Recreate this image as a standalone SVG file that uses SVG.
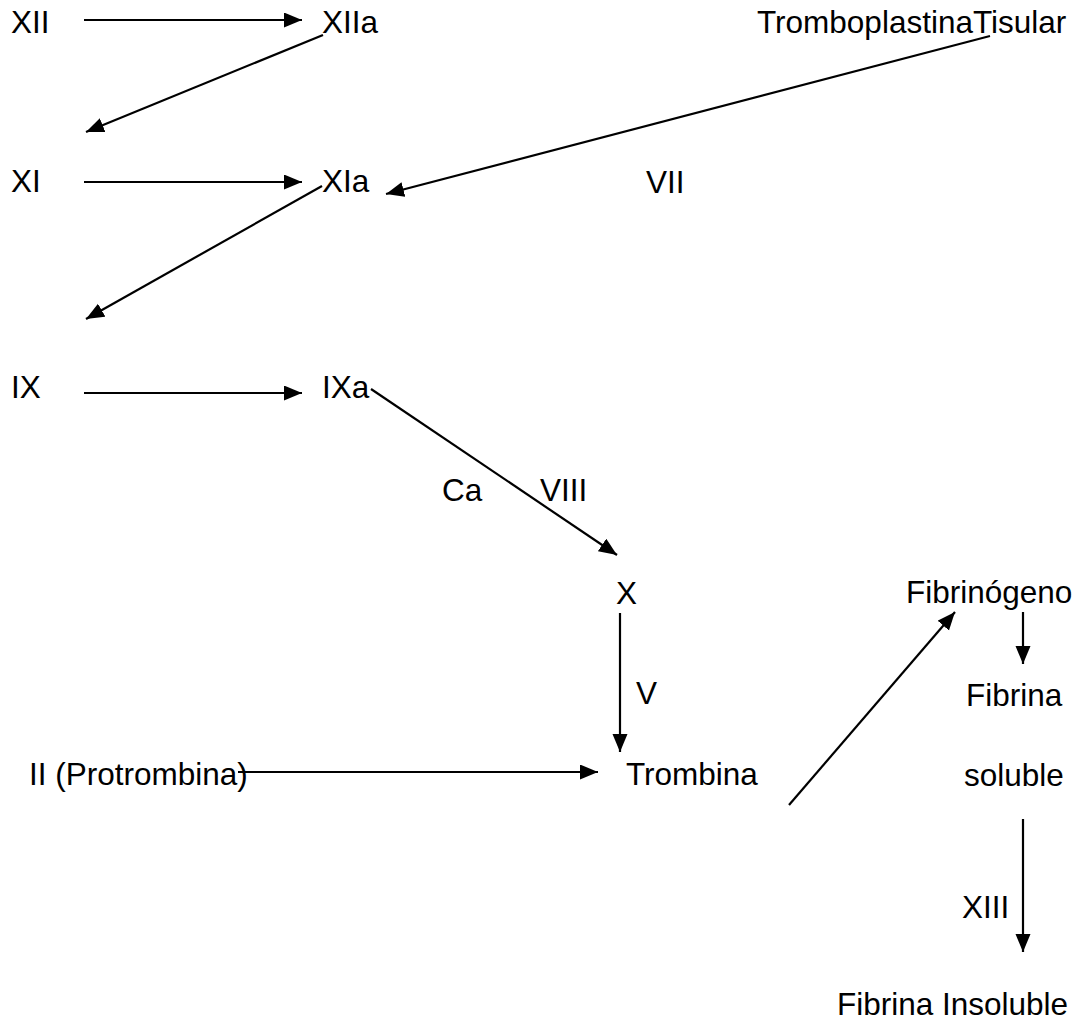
<svg xmlns="http://www.w3.org/2000/svg" width="1083" height="1023" viewBox="0 0 1083 1023">
<style>
text{font-family:"Liberation Sans",Arial,sans-serif;font-size:31.5px;fill:#000}
.c line{stroke:#000;stroke-width:2.2;fill:none}
</style>
<defs>
<marker id="ah" markerUnits="userSpaceOnUse" markerWidth="20" markerHeight="16" refX="18" refY="7.5" orient="auto">
<path d="M0,0 L18,7.5 L0,15 z" fill="#000"/>
</marker>
</defs>
<rect width="1083" height="1023" fill="#fff"/>
<g class="c" id="connectors">
<line x1="84" y1="20" x2="302" y2="20" marker-end="url(#ah)"/>
<line x1="323" y1="35" x2="86" y2="132" marker-end="url(#ah)"/>
<line x1="84" y1="182" x2="302" y2="182" marker-end="url(#ah)"/>
<line x1="990" y1="36" x2="386" y2="194" marker-end="url(#ah)"/>
<line x1="322" y1="186" x2="86" y2="319" marker-end="url(#ah)"/>
<line x1="84" y1="393" x2="302" y2="393" marker-end="url(#ah)"/>
<line x1="371" y1="389" x2="617" y2="555" marker-end="url(#ah)"/>
<line x1="620" y1="613" x2="620" y2="752" marker-end="url(#ah)"/>
<line x1="238" y1="772" x2="598" y2="772" marker-end="url(#ah)"/>
<line x1="789" y1="805" x2="955" y2="612" marker-end="url(#ah)"/>
<line x1="1023" y1="612" x2="1023" y2="664" marker-end="url(#ah)"/>
<line x1="1023" y1="819" x2="1023" y2="952" marker-end="url(#ah)"/>
</g>
<g id="n-XII"><text x="11" y="33">XII</text></g>
<g id="n-XIIa"><text x="322" y="33">XIIa</text></g>
<g id="n-TT"><text x="757" y="33">TromboplastinaTisular</text></g>
<g id="n-XI"><text x="11" y="192">XI</text></g>
<g id="n-XIa"><text x="322" y="192">XIa</text></g>
<g id="n-VII"><text x="646" y="193">VII</text></g>
<g id="n-IX"><text x="11" y="398">IX</text></g>
<g id="n-IXa"><text x="322" y="398">IXa</text></g>
<g id="n-Ca"><text x="442" y="501">Ca</text></g>
<g id="n-VIII"><text x="540" y="501">VIII</text></g>
<g id="n-X"><text x="616" y="604">X</text></g>
<g id="n-V"><text x="636" y="704">V</text></g>
<g id="n-II"><text x="29" y="785">II (Protrombina)</text></g>
<g id="n-Trombina"><text x="626" y="785">Trombina</text></g>
<g id="n-Fibrinogeno"><text x="906" y="603">Fibrinógeno</text></g>
<g id="n-Fibrina"><text x="966" y="706">Fibrina</text></g>
<g id="n-soluble"><text x="964" y="786">soluble</text></g>
<g id="n-XIII"><text x="962" y="918">XIII</text></g>
<g id="n-FI"><text x="837" y="1015">Fibrina Insoluble</text></g>
</svg>
